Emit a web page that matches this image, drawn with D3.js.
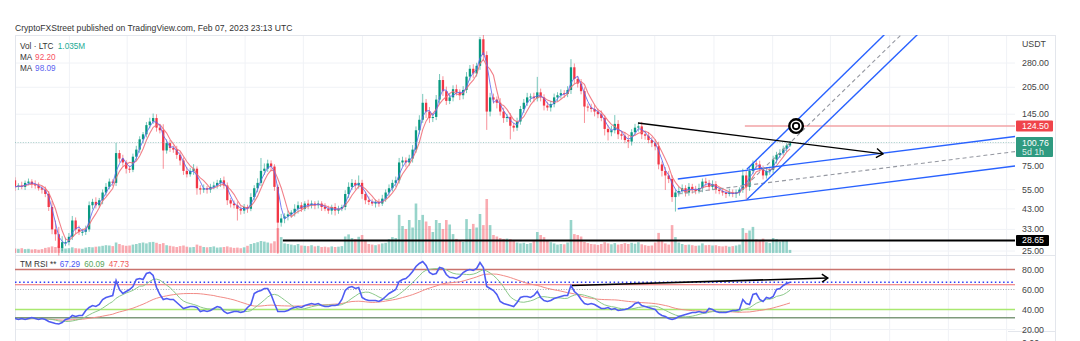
<!DOCTYPE html>
<html><head><meta charset="utf-8">
<script src="https://cdn.jsdelivr.net/npm/d3@7"></script>
<style>
html,body{margin:0;padding:0;background:#fff;overflow:hidden;}
svg{display:block;font-family:"Liberation Sans",Arial,sans-serif;}
</style></head><body>
<svg id="c" width="1080" height="341"></svg>
<script>
// ---------- DATA (weekly LTC/USDT) ----------
const firstOpen = 62;
const closes = [
57,58,57,60,61,59,58,56,55,52,
44,33,31,26,28,28,30,37,33,32,
32,33,45,47,45,48,53,57,61,60,
88,82,78,72,71,84,92,105,112,126,
132,138,122,118,91,100,94,92,86,80,
70,67,70,72,56,55,56,55,57,58,
60,62,58,48,46,45,43,42,44,43,
50,56,60,70,72,77,74,57,36,38,
39,40,41,43,45,43,46,45,46,45,
46,44,43,42,44,42,43,44,52,57,
60,58,60,52,48,47,46,47,46,49,
53,56,60,62,78,80,78,82,92,118,
135,168,150,138,140,175,225,195,172,180,
200,192,185,198,235,260,245,270,380,310,
150,180,175,168,150,138,140,125,122,132,
155,168,180,182,178,192,180,162,158,165,
180,185,190,188,198,265,228,215,195,160,
158,155,150,145,138,120,115,118,128,112,
110,104,102,115,122,124,112,110,104,100,
96,76,70,66,63,50,53,54,56,53,
57,55,54,56,61,60,57,59,55,54,
53,52,53,52,53,55,66,57,70,77,
76,72,66,70,71,81,86,88,93,97,
100.76];
// upper / lower wick length, % beyond the candle body
const wickUp = [
4,3,5,3,4,3,5,4,3,4, 4,8,12,10,8,6,5,6,4,5, 4,5,5,4,6,3,4,5,4,3,
14,4,5,3,4,4,5,4,3,4, 5,6,5,4,8,5,4,3,5,4, 4,5,4,6,3,4,5,3,4,5,
4,3,5,4,3,4,5,3,4,3, 5,4,6,18,7,5,4,3,3,6, 4,5,3,6,5,4,3,5,4,3,
4,3,5,4,3,5,4,3,5,6, 5,4,10,4,3,5,4,3,4,5, 4,5,4,5,6,5,4,5,6,5,
6,12,5,6,5,6,8,5,6,5, 5,6,4,5,6,5,6,4,3,8, 5,6,5,4,6,5,4,5,4,5,
4,5,6,4,5,22,5,4,5,4, 5,4,5,4,5,11,5,4,6,5, 4,5,6,4,5,4,5,6,12,5,
4,5,6,4,5,5,6,4,5,4, 5,6,4,5,6,5,4,6,5,4, 5,4,5,6,4,5,4,5,4,3,
4,3,5,4,4,3,9,6,5,4, 4,5,4,5,4,5,4,5,4,3, 2];
const wickDown = [
5,4,3,4,3,5,4,3,5,4, 5,6,8,10,4,5,4,4,5,4, 5,4,3,5,4,3,5,4,3,4,
4,5,4,6,4,3,5,4,5,4, 4,3,5,4,21,4,5,4,5,6, 5,4,3,5,8,6,4,5,4,3,
4,5,4,6,5,4,14,5,4,5, 3,4,5,4,5,4,6,5,33,5, 6,5,4,5,6,4,3,5,4,5,
4,5,3,4,5,6,4,3,4,5, 4,5,4,6,5,4,3,5,4,3, 4,5,4,5,4,5,6,4,5,4,
5,4,8,6,5,4,5,6,5,4, 5,4,6,5,4,5,6,4,5,6, 21,6,5,7,5,6,5,16,5,4,
4,5,4,6,5,4,5,6,4,5, 4,5,4,5,4,5,6,5,4,19, 5,4,6,5,4,8,10,5,4,6,
5,4,8,5,4,5,6,5,4,5, 5,6,7,17,5,6,17,5,4,5, 4,5,4,3,5,4,5,4,5,4,
4,5,3,4,5,4,4,16,5,4, 5,4,5,4,5,4,5,4,3,4, 2];
// volume, millions LTC
const volumes = [
1.5,1.4,1.6,1.3,1.4,1.2,1.3,1.1,1.3,1.7, 1.9,2.2,2.0,2.4,1.8,1.5,1.6,1.9,1.6,1.5,
1.4,1.8,2.0,1.9,2.1,2.2,2.4,2.6,2.5,2.3, 3.5,3.0,2.6,2.4,2.5,2.8,3.0,3.3,3.5,3.2,
3.6,3.7,3.4,3.0,3.3,2.6,2.4,2.2,2.0,2.3, 2.5,2.1,1.9,2.0,2.8,2.4,2.0,1.9,2.0,2.2,
1.8,1.9,2.0,2.2,1.9,1.7,1.8,1.6,1.9,2.4, 3.0,3.3,3.6,4.0,3.8,3.5,3.2,3.9,8.3,5.3,
3.2,3.0,2.8,2.6,3.0,2.5,2.4,2.3,2.6,2.2, 2.4,2.0,2.1,1.9,2.2,2.0,2.1,2.3,5.5,6.2,
5.0,4.6,5.4,6.0,4.0,3.0,2.8,2.6,2.9,3.2, 3.4,4.6,5.3,5.0,12.7,9.0,8.0,11.0,8.5,16.5,
11.0,12.7,10.5,9.0,7.0,11.0,10.0,8.0,11.0,9.5, 6.3,4.7,4.0,3.7,11.3,8.0,9.7,8.5,13.0,9.3,
18.0,9.3,6.0,5.5,5.0,4.7,4.8,4.6,4.0,3.5, 3.2,3.4,3.0,3.3,4.0,7.0,6.0,5.3,4.3,3.6,
3.2,2.8,3.0,2.9,3.5,11.0,6.3,6.0,5.5,3.7, 3.3,3.0,2.9,2.7,3.0,3.6,3.2,2.9,3.3,2.8,
3.0,3.3,3.0,3.4,3.1,3.6,2.9,2.6,2.4,2.5, 3.5,6.7,4.0,3.2,2.8,9.3,5.3,3.5,3.0,2.7,
2.8,2.6,2.4,2.5,3.2,2.6,2.7,2.5,2.6,2.3, 2.2,2.4,2.1,2.3,2.5,2.8,8.3,6.7,7.5,8.7,
4.5,4.0,4.8,3.6,3.3,5.0,4.6,3.8,4.3,4.0, 1.035];
// TM RSI main line
const rsi = [
31,30,31,30,31,32,31,30,31,30, 28,27,26,25.5,27,30,31,34,33,34,
34,39,42,44,43,45,50,52,53,54, 69,60,56,58,60,63,70,71,70,76,
77,74,62,55,50,51,50,50,47,44, 41,42,43,43,42,38,39,38,39,41,
43,42,38,36,37,38,38,37,38,42, 45,56,58,59,61,61,55,46,38,38,
38,39,41,42,43,42,44,45,46,45, 46,44,43,43,44,44,45,50,59,62,
63,61,62,52,50,49,49,49,48,50, 53,56,58,60,68,70,71,74,78,83,
86,88,84,77,75,76,82,81,75,72, 72,71,73,77,79,80,79,81,87,82,
63,61,59,55,48,46,45,44,43,47, 52,53,53,52,54,58,52,49,48,49,
51,52,53,54,54,64,58,55,50,46, 45,46,45,43,41,41,42,40,41,39,
39.5,40,41,43,46,47,44,43,42,41, 40,36,34,33,31,30,31,33,34,35,
36,37,37,38,37,37,41,40,38,37, 37,37,38,39,39,40,50,46,45,55,
56,50,48,52,51,53,60,61,64,66, 67.29];

const startDate = Date.UTC(2018, 8, 10);          // first weekly bar
const priceTicks = [280, 205, 145, 100, 75, 55, 43, 33, 25];
const rsiTicks = [80, 60, 40, 20, 0];
// RSI indicator levels: [value, colour, width, dash]
const rsiLevels = [
  [80, "#c9736e", 1.4, null],
  [67.2, "#2f3cf5", 1.6, "1.5,2.6"],
  [64.8, "#ef6b6b", 1.1, null],
  [60, "#a3a6ad", 1, "1,1.6"],
  [40, "#a9e86f", 1.4, null],
  [31.8, "#7f9a7c", 1.4, null]
];
// drawings, anchors as [bar index, price]
const supportLine = [[79.5, 28.65], [300, 28.65]];
const resistLine  = [[216.6, 124.5], [300, 124.5]];
const trendArrow  = [[184.9, 129.6], [257.6, 87.1]];
const wideUpper = [[196.7, 63.1], [298, 109.5]];
const wideMid   = [[196.7, 52.0], [298, 90.3]];
const wideLower = [[196.7, 43.0], [298, 75.0]];
const steepUpper = [[217.2, 71.5], [259.1, 422]];
const steepMid   = [[217.2, 58.6], [264.1, 422]];
const steepLower = [[217.2, 48.4], [268.9, 422]];
const targetMark = [231.8, 124.5];
const rsiArrow = [[165.3, 64], [241.2, 71.5]];

// ---------- SCALES ----------
const N = closes.length;
const x = d3.scaleLinear().domain([0, N - 1]).range([15, 790]);
const y = d3.scaleLog().domain([25, 280]).range([251, 63]);
const vy = d3.scaleLinear().domain([0, 20]).range([253, 193]);
const ry = d3.scaleLinear().domain([0, 100]).range([349.5, 249.5]);

const paneL = 15, paneR = 1015, axisR = 1055;
const mainTop = 35, mainBot = 255.5, rsiTop = 256;

const UP = "#089981", DN = "#f23645";
const bars = closes.map((c, i) => {
  const o = i === 0 ? firstOpen : closes[i - 1];
  const top = Math.max(o, c), bot = Math.min(o, c);
  return {i, o, c, h: top * (1 + wickUp[i] / 100), l: bot * (1 - wickDown[i] / 100),
          v: volumes[i], up: c >= o};
});
const sma = (arr, n) => arr.map((_, i) => d3.mean(arr.slice(Math.max(0, i - n + 1), i + 1)));
const maBlue = sma(closes, 3), maRed = sma(closes, 5);
const rsiFast = sma(rsi, 8), rsiSlow = sma(rsi, 30);

const svg = d3.select("#c");
const defs = svg.append("defs");
defs.append("clipPath").attr("id", "mainClip").append("rect")
  .attr("x", paneL).attr("y", mainTop).attr("width", paneR - paneL).attr("height", mainBot - mainTop);
defs.append("clipPath").attr("id", "rsiClip").append("rect")
  .attr("x", paneL).attr("y", rsiTop).attr("width", paneR - paneL).attr("height", 341 - rsiTop);

// ---------- GRID ----------
const grid = svg.append("g");
const weekMs = 7 * 864e5;
const gridDates = d3.utcMonth.every(4).range(new Date(startDate), new Date(startDate + 300 * weekMs));
gridDates.forEach(d => {
  const xi = x((d - startDate) / weekMs);
  if (xi > paneL && xi < paneR)
    grid.append("line").attr("x1", xi).attr("x2", xi).attr("y1", mainTop).attr("y2", 341)
      .attr("stroke", "#f0f2f6").attr("stroke-width", 1);
});
priceTicks.forEach(p => grid.append("line").attr("x1", paneL).attr("x2", paneR)
  .attr("y1", y(p)).attr("y2", y(p)).attr("stroke", "#f0f2f6"));
[20].forEach(v => grid.append("line").attr("x1", paneL).attr("x2", paneR)
  .attr("y1", ry(v)).attr("y2", ry(v)).attr("stroke", "#f0f2f6"));

// borders
const border = svg.append("g").attr("stroke", "#e3e6ec").attr("fill", "none");
border.append("line").attr("x1", paneL + .5).attr("x2", paneL + .5).attr("y1", mainTop).attr("y2", 341);
border.append("line").attr("x1", axisR + .5).attr("x2", axisR + .5).attr("y1", mainTop).attr("y2", 341);
border.append("line").attr("x1", paneL).attr("x2", axisR).attr("y1", mainTop + .5).attr("y2", mainTop + .5);
border.append("line").attr("x1", paneL).attr("x2", axisR).attr("y1", mainBot).attr("y2", mainBot);
border.append("line").attr("x1", 1008).attr("x2", axisR).attr("y1", 331.5).attr("y2", 331.5);

// ---------- MAIN PANE ----------
const main = svg.append("g").attr("clip-path", "url(#mainClip)");
const bw = 2.3;
main.append("g").selectAll("rect").data(bars).join("rect")
  .attr("x", d => x(d.i) - 1.3).attr("width", 2.6)
  .attr("y", d => vy(d.v)).attr("height", d => vy(0) - vy(d.v))
  .attr("fill", d => d.up ? "rgba(8,153,129,0.42)" : "rgba(242,54,69,0.42)");

const cg = main.append("g");
cg.selectAll("line").data(bars).join("line")
  .attr("x1", d => x(d.i)).attr("x2", d => x(d.i))
  .attr("y1", d => y(d.h)).attr("y2", d => y(d.l))
  .attr("stroke", d => d.up ? UP : DN).attr("stroke-opacity", 0.55).attr("stroke-width", 1);
cg.selectAll("rect").data(bars).join("rect")
  .attr("x", d => x(d.i) - bw / 2).attr("width", bw)
  .attr("y", d => y(Math.max(d.o, d.c)))
  .attr("height", d => Math.max(1, y(Math.min(d.o, d.c)) - y(Math.max(d.o, d.c))))
  .attr("fill", d => d.up ? UP : DN);

const line = d3.line().x((d, i) => x(i)).y(d => y(d));
main.append("path").datum(maRed).attr("d", line).attr("fill", "none")
  .attr("stroke", "#f06a74").attr("stroke-width", 1.1).attr("stroke-opacity", 0.85);
main.append("path").datum(maBlue).attr("d", line).attr("fill", "none")
  .attr("stroke", "#5d68f0").attr("stroke-width", 1).attr("stroke-opacity", 0.85);

// current price dotted line
main.append("line").attr("x1", paneL).attr("x2", paneR)
  .attr("y1", y(closes[N - 1])).attr("y2", y(closes[N - 1]))
  .attr("stroke", "#6aaea2").attr("stroke-opacity", 0.7).attr("stroke-dasharray", "1,1.6").attr("stroke-width", 0.8);

// drawings
const dg = main.append("g").attr("fill", "none");
const seg = (pts, col, w, dash) => dg.append("line")
  .attr("x1", x(pts[0][0])).attr("y1", y(pts[0][1]))
  .attr("x2", x(pts[1][0])).attr("y2", y(pts[1][1]))
  .attr("stroke", col).attr("stroke-width", w).attr("stroke-dasharray", dash);
seg(resistLine, "#f2a3a6", 1.4, null);
seg(supportLine, "#000", 2, null);
seg(wideUpper, "#2962ff", 1.4, null);
seg(wideLower, "#2962ff", 1.4, null);
seg(wideMid, "#9598a1", 1.1, "4,3");
seg(steepUpper, "#2962ff", 1.4, null);
seg(steepLower, "#2962ff", 1.4, null);
seg(steepMid, "#9598a1", 1.1, "4,3");
seg(trendArrow, "#000", 1.4, null);

function arrowHead(g, x1, y1, x2, y2, len, col, w) {
  const a = Math.atan2(y2 - y1, x2 - x1);
  const p = d3.path();
  p.moveTo(x2 - len * Math.cos(a - 0.6), y2 - len * Math.sin(a - 0.6));
  p.lineTo(x2, y2);
  p.lineTo(x2 - len * Math.cos(a + 0.6), y2 - len * Math.sin(a + 0.6));
  g.append("path").attr("d", p.toString()).attr("fill", "none").attr("stroke", col).attr("stroke-width", w);
}
arrowHead(dg, x(trendArrow[0][0]), y(trendArrow[0][1]), x(trendArrow[1][0]), y(trendArrow[1][1]), 8, "#000", 1.4);

// target mark
const tx = x(targetMark[0]), ty = y(targetMark[1]);
dg.append("circle").attr("cx", tx).attr("cy", ty).attr("r", 6.8).attr("fill", "#fff").attr("stroke", "#000").attr("stroke-width", 2.4);
dg.append("circle").attr("cx", tx).attr("cy", ty).attr("r", 3.2).attr("fill", "#fff").attr("stroke", "#000").attr("stroke-width", 1.8);

// ---------- RSI PANE ----------
const rp = svg.append("g").attr("clip-path", "url(#rsiClip)");
rsiLevels.forEach(([v, col, w, dash]) => rp.append("line")
  .attr("x1", paneL).attr("x2", paneR).attr("y1", ry(v)).attr("y2", ry(v))
  .attr("stroke", col).attr("stroke-width", w).attr("stroke-dasharray", dash));
const rline = d3.line().x((d, i) => x(i)).y(d => ry(d));
rp.append("path").datum(rsiSlow).attr("d", rline).attr("fill", "none")
  .attr("stroke", "#f28b86").attr("stroke-width", 1);
rp.append("path").datum(rsiFast).attr("d", rline).attr("fill", "none")
  .attr("stroke", "#8cc98a").attr("stroke-width", 1);
rp.append("path").datum(rsi).attr("d", rline).attr("fill", "none")
  .attr("stroke", "#4f5cf2").attr("stroke-width", 1.6);
rp.append("line").attr("x1", x(rsiArrow[0][0])).attr("y1", ry(rsiArrow[0][1]))
  .attr("x2", x(rsiArrow[1][0])).attr("y2", ry(rsiArrow[1][1]))
  .attr("stroke", "#000").attr("stroke-width", 1.6);
arrowHead(rp, x(rsiArrow[0][0]), ry(rsiArrow[0][1]), x(rsiArrow[1][0]), ry(rsiArrow[1][1]), 7, "#000", 1.5);

// ---------- TEXT ----------
svg.append("text").attr("x", 15).attr("y", 31).attr("font-size", 8.6).attr("fill", "#333")
  .text("CryptoFXStreet published on TradingView.com, Feb 07, 2023 23:13 UTC");

const leg = svg.append("g").attr("font-size", 8.2);
const t1 = leg.append("text").attr("x", 20).attr("y", 49);
t1.append("tspan").attr("fill", "#333").text("Vol · LTC ");
t1.append("tspan").attr("fill", "#22ab94").attr("dx", 2).text("1.035M");
const t2 = leg.append("text").attr("x", 20).attr("y", 60);
t2.append("tspan").attr("fill", "#333").text("MA ");
t2.append("tspan").attr("fill", "#f7525f").attr("dx", 1).text("92.20");
const t3 = leg.append("text").attr("x", 20).attr("y", 71);
t3.append("tspan").attr("fill", "#333").text("MA ");
t3.append("tspan").attr("fill", "#5b62f0").attr("dx", 1).text("98.09");
const t4 = leg.append("text").attr("x", 20).attr("y", 267);
t4.append("tspan").attr("fill", "#333").text("TM RSI ** ");
t4.append("tspan").attr("fill", "#4a57f2").attr("dx", 1).text("67.29");
t4.append("tspan").attr("fill", "#58a55a").attr("dx", 4).text("60.09");
t4.append("tspan").attr("fill", "#f05a5a").attr("dx", 4).text("47.73");

// price axis
const ax = svg.append("g").attr("font-size", 8.8).attr("fill", "#444");
ax.append("text").attr("x", 1022).attr("y", 47).text("USDT");
priceTicks.forEach(p => ax.append("text").attr("x", 1022).attr("y", y(p) + 3).text(p.toFixed(2)));
rsiTicks.forEach(v => ax.append("text").attr("x", 1022)
  .attr("y", Math.min(ry(v) + 3, 345.5)).text(v.toFixed(2)));

function tag(val, lines, bg, w) {
  const cy = y(val), h = 11 * lines.length + (lines.length > 1 ? -2 : 0);
  svg.append("rect").attr("x", paneR + 1).attr("y", cy - 5.5).attr("width", w).attr("height", h)
    .attr("rx", 1).attr("fill", bg);
  lines.forEach((s, k) => svg.append("text").attr("x", 1022).attr("y", cy + 3 + k * 9)
    .attr("font-size", 8.8).attr("fill", k ? "rgba(255,255,255,0.85)" : "#fff").text(s));
}
tag(124.5, ["124.50"], "#ef444b", 37);
tag(closes[N - 1], [closes[N - 1].toFixed(2), "5d 1h"], "#2f9a80", 37);
tag(28.65, ["28.65"], "#000", 33);
</script>
</body></html>
